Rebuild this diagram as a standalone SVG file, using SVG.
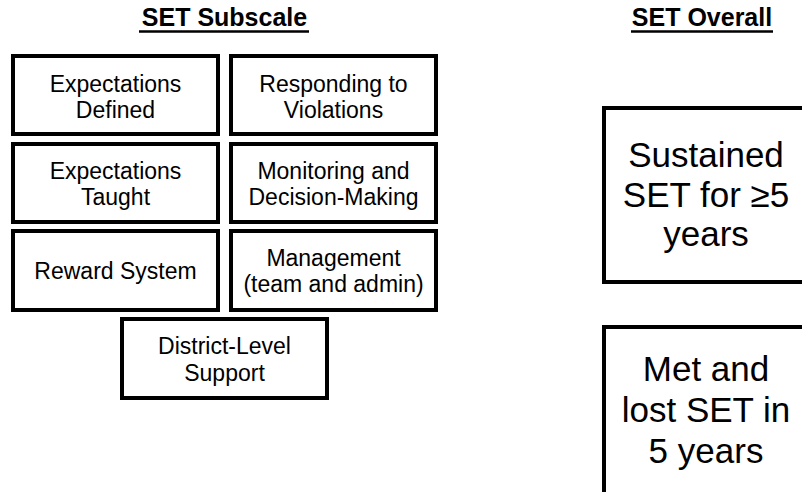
<svg xmlns="http://www.w3.org/2000/svg" width="802" height="492" viewBox="0 0 802 492">
<style>
.box{fill:#fff;stroke:#000;stroke-width:4}
.t{font-family:"Liberation Sans",Arial,sans-serif;font-size:23px;fill:#000;text-anchor:middle}
.big{font-family:"Liberation Sans",Arial,sans-serif;font-size:35px;fill:#000;text-anchor:middle}
.title{font-family:"Liberation Sans",Arial,sans-serif;font-size:25px;font-weight:bold;fill:#000;text-anchor:middle}
.ul{stroke:#000;stroke-width:2.5}
</style>
<rect width="802" height="492" fill="#fff"/>
<g id="title-subscale">
<text class="title" x="224.5" y="26">SET Subscale</text>
<line class="ul" x1="139" y1="31.5" x2="309" y2="31.5"/>
</g>
<g id="title-overall">
<text class="title" x="702" y="26">SET Overall</text>
<line class="ul" x1="631" y1="31.5" x2="773" y2="31.5"/>
</g>
<g id="expectations-defined">
<rect class="box" x="13" y="56" width="205" height="78"/>
<text class="t" x="115.5" y="91.5">Expectations</text>
<text class="t" x="115.5" y="118">Defined</text>
</g>
<g id="responding-to-violations">
<rect class="box" x="231" y="56" width="205" height="78"/>
<text class="t" x="333.5" y="91.5">Responding to</text>
<text class="t" x="333.5" y="118">Violations</text>
</g>
<g id="expectations-taught">
<rect class="box" x="13" y="144" width="205" height="78"/>
<text class="t" x="115.5" y="178.5">Expectations</text>
<text class="t" x="115.5" y="205">Taught</text>
</g>
<g id="monitoring-decision-making">
<rect class="box" x="231" y="144" width="205" height="78"/>
<text class="t" x="333.5" y="178.5">Monitoring and</text>
<text class="t" x="333.5" y="205">Decision-Making</text>
</g>
<g id="reward-system">
<rect class="box" x="13" y="231" width="205" height="79"/>
<text class="t" x="115.5" y="278.5">Reward System</text>
</g>
<g id="management">
<rect class="box" x="231" y="231" width="205" height="79"/>
<text class="t" x="333.5" y="265.5">Management</text>
<text class="t" x="333.5" y="292">(team and admin)</text>
</g>
<g id="district-level-support">
<rect class="box" x="122" y="319" width="205" height="79"/>
<text class="t" x="224.5" y="354">District-Level</text>
<text class="t" x="224.5" y="380.5">Support</text>
</g>
<g id="sustained-set">
<rect class="box" x="604" y="108" width="205" height="174"/>
<text class="big" x="706" y="167">Sustained</text>
<text class="big" x="706" y="207">SET for ≥5</text>
<text class="big" x="706" y="246">years</text>
</g>
<g id="met-and-lost-set">
<rect class="box" x="604" y="327" width="205" height="174"/>
<text class="big" x="706" y="381">Met and</text>
<text class="big" x="706" y="422">lost SET in</text>
<text class="big" x="706" y="463">5 years</text>
</g>
<g id="connectors"></g>
</svg>
